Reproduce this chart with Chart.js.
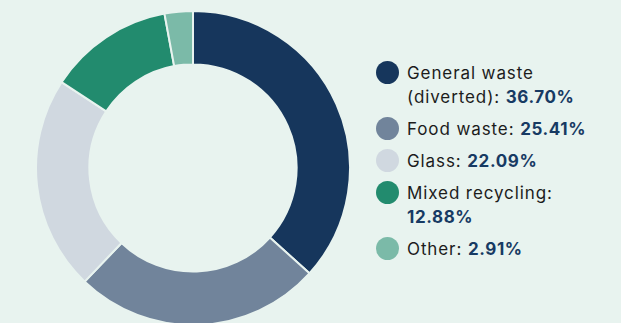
<!DOCTYPE html>
<html><head><meta charset="utf-8">
<script src="https://cdn.jsdelivr.net/npm/chart.js@4/dist/chart.umd.min.js"></script>
<style>
html,body{margin:0;padding:0;}
body{width:621px;height:323px;overflow:hidden;background:#e8f3ef;position:relative;font-family:Inter,"Open Sans",sans-serif;}
#wrap{position:absolute;left:35px;top:10px;width:316px;height:316px;}
#legend{position:absolute;left:376px;top:61px;margin:0;padding:0;list-style:none;}
#legend li{position:relative;padding-left:31px;font-size:17px;line-height:24px;color:#1c1c1c;margin-bottom:8px;width:214px;letter-spacing:0.9px;}
#legend li span.dot{position:absolute;left:0;top:0;width:23px;height:23px;border-radius:50%;}
#legend b{color:#173a63;font-weight:700;letter-spacing:0.6px;}
</style></head>
<body>
<div id="wrap"><canvas id="c"></canvas></div>
<ul id="legend"></ul>
<script>
const categories = ["General waste (diverted)", "Food waste", "Glass", "Mixed recycling", "Other"];
const legendLines = [["General waste", "(diverted): "], ["Food waste: "], ["Glass: "], ["Mixed recycling:", ""], ["Other: "]];
const values = [36.70, 25.41, 22.09, 12.88, 2.91];
const colors = ["#16365c", "#71849b", "#d0d8e0", "#228b6e", "#7bbaa8"];

new Chart(document.getElementById('c'), {
  type: 'doughnut',
  data: { labels: categories, datasets: [{ data: values, backgroundColor: colors, borderColor: '#e8f3ef', borderWidth: 2, hoverOffset: 0, offset: 0 }] },
  options: {
    responsive: true, maintainAspectRatio: false, animation: false,
    cutout: '66%',
    layout: { padding: 0 },
    plugins: { legend: { display: false }, tooltip: { enabled: false } }
  }
});

const ul = document.getElementById('legend');
categories.forEach((c, i) => {
  const li = document.createElement('li');
  const dot = document.createElement('span');
  dot.className = 'dot'; dot.style.background = colors[i];
  li.appendChild(dot);
  const lines = legendLines[i];
  let html = '';
  lines.forEach((l, j) => {
    html += l;
    if (j < lines.length - 1) html += '<br>';
  });
  html += '<b>' + values[i].toFixed(2) + '%</b>';
  li.insertAdjacentHTML('beforeend', html);
  ul.appendChild(li);
});
</script>
</body></html>
